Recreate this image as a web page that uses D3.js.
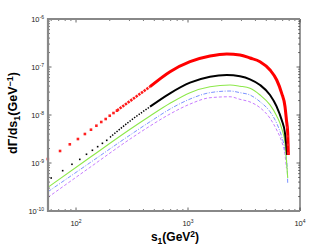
<!DOCTYPE html>
<html><head><meta charset="utf-8">
<script src="https://cdn.jsdelivr.net/npm/d3@7"></script>
<style>body{margin:0;background:#fff}svg{display:block}</style>
</head><body>
<svg id="c" width="332" height="250"></svg>
<script>
// ---- data (s1 in GeV^2, dGamma/ds1 in GeV^-1) ----
const redMarkS = [56,72,88,104,120,136,152,168,184,200,216,232];
const redMarkV = [1.21e-9,1.78e-9,2.45e-9,3.16e-9,4.02e-9,4.94e-9,5.98e-9,7.15e-9,8.25e-9,9.66e-9,1.10e-8,1.23e-8];
const redLineS = [232,304,458,691,1042,1572,2218,2912,3577,4396,5400,6194,6866,7350,7566,7770,7870];
const redLineV = [1.24e-8,1.96e-8,3.89e-8,7.98e-8,1.29e-7,1.69e-7,1.87e-7,1.78e-7,1.54e-7,1.29e-7,8.66e-8,5.36e-8,2.83e-8,1.49e-8,7.87e-9,4.16e-9,1.47e-9];
const redTailS = [7700,7770,7820,7870];
const redTailV = [5.5e-9,3.6e-9,2.4e-9,1.6e-9];

const blackMarkS = [60,76,92,108,124,140,156,172,188];
const blackMarkV = [4.87e-10,6.92e-10,9.40e-10,1.19e-9,1.52e-9,1.84e-9,2.19e-9,2.57e-9,2.97e-9];
const blackLineS = [201,304,458,691,1042,1572,2218,2912,3577,4396,5400,6194,6866,7350,7566,7674];
const blackLineV = [3.43e-9,7.50e-9,1.49e-8,2.83e-8,4.71e-8,6.28e-8,6.81e-8,6.40e-8,5.54e-8,4.22e-8,2.61e-8,1.49e-8,7.87e-9,4.16e-9,2.19e-9,1.47e-9];

const greenS = [56.2,133,304,458,691,1042,1572,2371,2912,3577,4396,5400,6194,6866,7350,7566,7770];
const greenV = [3.12e-10,1.30e-9,5.04e-9,9.53e-9,1.75e-8,2.92e-8,3.89e-8,4.22e-8,3.98e-8,3.60e-8,2.61e-8,1.62e-8,9.53e-9,5.28e-9,2.57e-9,1.15e-9,4.87e-10];

const blueS = [56.2,133,304,458,691,1042,1572,2371,2912,3577,4396,5400,6194,6866,7350,7674,7770];
const blueV = [2.52e-10,1.01e-9,3.83e-9,7.24e-9,1.33e-8,2.15e-8,2.92e-8,3.16e-8,2.92e-8,2.61e-8,1.89e-8,1.17e-8,6.71e-9,3.53e-9,1.87e-9,8.37e-10,3.65e-10];

const purpleS = [56.2,133,304,458,691,1042,1572,2371,2912,3577,4396,5400,6194,6866,7350,7566];
const purpleV = [1.93e-10,8.09e-10,3.16e-9,5.90e-9,1.05e-8,1.69e-8,2.29e-8,2.40e-8,2.12e-8,1.87e-8,1.42e-8,8.53e-9,4.87e-9,2.78e-9,1.47e-9,7.87e-10];

const xMajor = [100,1000,10000];
const xMajorExp = ["2","3","4"];
const yMajor = [1e-10,1e-9,1e-8,1e-7,1e-6];
const yMajorExp = ["-10","-9","-8","-7","-6"];

// ---- layout ----
const L=48,R=300,T=19,B=211;
const x = d3.scaleLog().domain([56.2,10000]).range([L,R]);
const y = d3.scaleLog().domain([1e-10,1e-6]).range([B,T]);
const svg = d3.select("#c");
const font = "Liberation Sans, Arial, Helvetica, sans-serif";

const zip = (s,v)=>s.map((d,i)=>[d,v[i]]);
const line = d3.line().x(d=>x(d[0])).y(d=>y(d[1])).curve(d3.curveMonotoneX);
const g = svg.append("g");

function path(pts,color,w,dash){
  g.append("path").attr("d",line(pts)).attr("fill","none")
   .attr("stroke",color).attr("stroke-width",w)
   .attr("stroke-dasharray",dash||null);
}
path(zip(purpleS,purpleV),"#c77cff",1,"3,2");
path(zip(blueS,blueV),"#7b93ff",1,"4,1.5,1,1.5");
path(zip(greenS,greenV),"#8de84a",1.1);
const bl = zip(blackLineS,blackLineV);
path(bl.slice(0,3),"#000",1.5,"1.4,1.4");
path(bl.slice(2),"#000",2);
const rl = zip(redLineS,redLineV);
path(rl.slice(0,3),"#ff1a1a",2.6,"2.4,0.9");
path(rl.slice(2),"#ff0000",3);

function marks(s,v,color,sz){
  g.selectAll(null).data(zip(s,v)).enter().append("rect")
   .attr("x",d=>x(d[0])-sz/2).attr("y",d=>y(d[1])-sz/2)
   .attr("width",sz).attr("height",sz).attr("fill",color);
}
marks(redMarkS,redMarkV,"#ff2020",2.6);
marks(redTailS,redTailV,"#ff2020",2.2);
marks(blackMarkS,blackMarkV,"#000",1.6);

// ---- axes frame & ticks ----
const ax = svg.append("g");
const xMinor=[], yMinor=[];
[10,100,1000].forEach(b=>{for(let k=2;k<=9;k++){const v=b*k; if(v>56.2&&v<10000) xMinor.push(v);}});
[1e-10,1e-9,1e-8,1e-7].forEach(b=>{for(let k=2;k<=9;k++) yMinor.push(b*k);});

function tick(x1,y1,x2,y2,c,w){ax.append("line").attr("x1",x1).attr("y1",y1).attr("x2",x2).attr("y2",y2).attr("stroke",c).attr("stroke-width",w);}
xMinor.forEach(v=>{tick(x(v),B,x(v),B-2,"#555",0.8);tick(x(v),T,x(v),T+2,"#555",0.8);});
xMajor.forEach(v=>{tick(x(v),B,x(v),B-3.5,"#555",0.9);tick(x(v),T,x(v),T+3.5,"#555",0.9);});
yMinor.forEach(v=>{tick(L,y(v),L+2,y(v),"#555",0.8);tick(R,y(v),R-2,y(v),"#555",0.8);});
yMajor.forEach(v=>{tick(L,y(v),L+3.5,y(v),"#555",0.9);tick(R,y(v),R-3.5,y(v),"#555",0.9);});

tick(R,T,R,B,"#333",1);
tick(L-1,T,R,T,"#888",2);
tick(L-1,B,R,B,"#888",2);
tick(L,T-1,L,B+1,"#888",2.2);

// tick labels
xMajor.forEach((v,i)=>{
  const t=ax.append("text").attr("x",x(v)).attr("y",226).attr("text-anchor","middle")
    .attr("font-family",font).attr("font-size",7.5).attr("fill","#222");
  t.append("tspan").text("10");
  t.append("tspan").attr("dy",-3.5).attr("font-size",5).text(xMajorExp[i]);
});
yMajor.forEach((v,i)=>{
  const t=ax.append("text").attr("x",44).attr("y",y(v)+3).attr("text-anchor","end")
    .attr("font-family",font).attr("font-size",7.5).attr("fill","#222");
  t.append("tspan").text("10");
  t.append("tspan").attr("dy",-3.5).attr("font-size",5).text(yMajorExp[i]);
});

// axis titles
const xt = svg.append("text").attr("x",175).attr("y",241).attr("text-anchor","middle")
  .attr("font-family",font).attr("font-size",12).attr("font-weight","bold");
xt.append("tspan").text("s");
xt.append("tspan").attr("dy",3).attr("font-size",8.5).text("1");
xt.append("tspan").attr("dy",-3).text("(GeV");
xt.append("tspan").attr("dy",-4.5).attr("font-size",8.5).text("2");
xt.append("tspan").attr("dy",4.5).text(")");

const yt = svg.append("text").attr("transform","translate(17,113) rotate(-90)").attr("text-anchor","middle")
  .attr("font-family",font).attr("font-size",12.5).attr("font-weight","bold");
yt.append("tspan").text("dΓ/ds");
yt.append("tspan").attr("dy",3).attr("font-size",9).text("1");
yt.append("tspan").attr("dy",-3).text("(GeV");
yt.append("tspan").attr("dy",-4.5).attr("font-size",9).text("−1");
yt.append("tspan").attr("dy",4.5).text(")");
</script>
</body></html>
